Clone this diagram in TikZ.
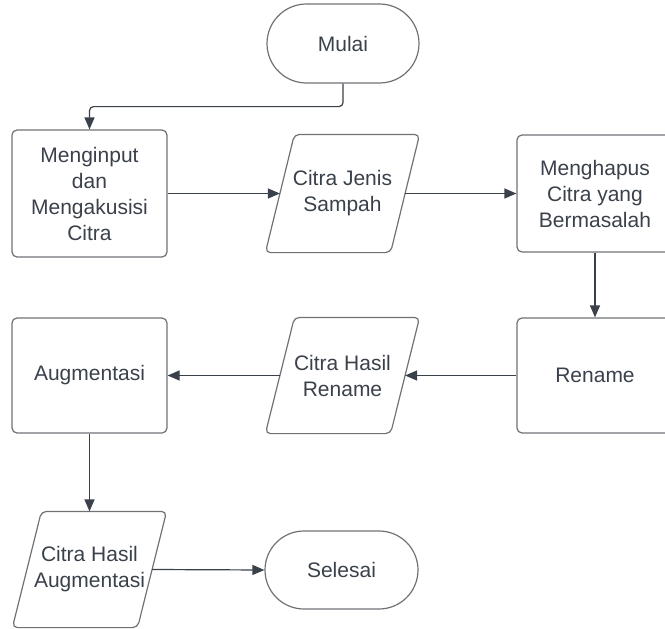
\documentclass[tikz,border=0pt]{standalone}
\usepackage{fontspec}
\setmainfont{Liberation Sans}
\usetikzlibrary{shapes.misc,arrows.meta}

\definecolor{ink}{HTML}{3A414A}
\definecolor{edge}{HTML}{6E7277}

\tikzset{
  base/.style={line width=1.2pt, text=ink, align=center,
    font=\fontsize{21}{26}\selectfont, inner sep=2pt},
  terminal/.style={base, draw=edge, rounded rectangle, minimum width=156pt, minimum height=79pt},
  process/.style={base, draw=edge, rectangle, rounded corners=5pt, minimum width=155pt},
  % data nodes: the node box is the mid-line of the slanted outline
  datanode/.style={base, rectangle, minimum width=124pt},
  outline/.style={draw=edge, line width=1.2pt, rounded corners=5pt},
  flow/.style={draw=ink, line width=1.2pt, rounded corners=4pt,
    -{Triangle[length=12pt,width=10pt]}}
}

% slanted outline of an input/output node, skew 29pt over its height
\newcommand\dataoutline[1]{%
  \draw[outline] ([xshift=14.5pt]#1.north west) -- ([xshift=14.5pt]#1.north east)
    -- ([xshift=-14.5pt]#1.south east) -- ([xshift=-14.5pt]#1.south west) -- cycle;}

\begin{document}
\begin{tikzpicture}[x=1pt,y=-1pt]
  \useasboundingbox (0,0) rectangle (665,629);
  \clip (0,0) rectangle (665,629);

  % terminals
  \node[terminal] (start) at (343,43.5) {Mulai};
  \node[terminal, minimum width=157pt, minimum height=78pt] (stop) at (341.5,570) {Selesai};

  % first row
  \node[process, minimum height=127pt] (input) at (89.5,193.5) {Menginput\\dan\\Mengakusisi\\Citra};
  \node[datanode, minimum height=117pt] (raw) at (342.5,193.5) {Citra Jenis\\Sampah};
  \node[process, minimum width=156pt, minimum height=117pt] (clean) at (595,193.5) {Menghapus\\Citra yang\\Bermasalah};

  % second row
  \node[process, minimum height=115pt] (augment) at (89.5,375.5) {Augmentasi};
  \node[datanode, minimum height=115pt] (renamed) at (342.5,375.5) {Citra Hasil\\Rename};
  \node[process, minimum width=156pt, minimum height=115pt] (rename) at (595,375.5) {Rename};

  % third row
  \node[datanode, minimum height=115pt] (result) at (89.5,569.5) {Citra Hasil\\Augmentasi};

  \dataoutline{raw}
  \dataoutline{renamed}
  \dataoutline{result}

  % connectors
  \draw[flow] (start.south) -- ++(0,23) -| (input.north);
  \draw[flow] (input.east) -- (raw.west);
  \draw[flow] (raw.east) -- (clean.west);
  \draw[flow] (clean.south) -- (rename.north);
  \draw[flow] (rename.west) -- (renamed.east);
  \draw[flow] (renamed.west) -- (augment.east);
  \draw[flow] (augment.south) -- (result.north);
  \draw[flow] (result.east) -- (stop.west);
\end{tikzpicture}
\end{document}
